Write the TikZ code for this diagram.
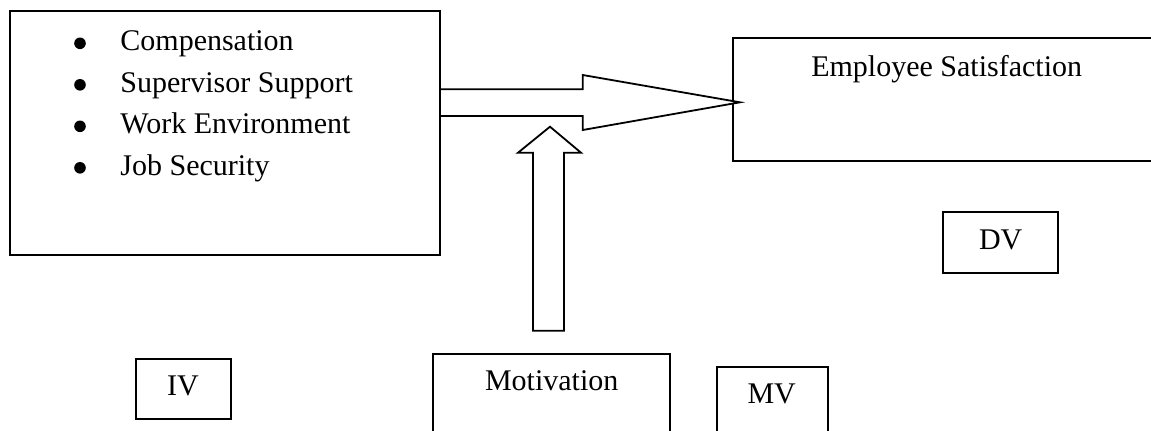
\documentclass[tikz,border=0pt]{standalone}
\usepackage{fontspec}
\setmainfont{Liberation Serif}
\begin{document}
\begin{tikzpicture}[x=0.5pt, y=-0.5pt, font=\fontsize{15}{18}\selectfont]
	\tikzset{box/.style={draw, line width=1pt, inner sep=0pt},
		txt/.style={inner sep=0pt, anchor=base},
		blockarrow/.style={draw, line width=0.9pt, line join=miter, fill=white}}
	\useasboundingbox (0,0) rectangle (1151,430);
	\clip (0,0) rectangle (1151,430);
	
	% Boxes
	\node[box, minimum width=215pt, minimum height=122pt] (factors) at (225,133) {};
	\node[box, minimum width=218.65pt, minimum height=61.35pt] (satisfaction) at (951.35,99.65) {};
	\node[box, minimum width=118.65pt, minimum height=45.35pt] (motivation) at (551.35,399.65) {};
	\node[box, minimum width=57.5pt, minimum height=30.5pt] (dv) at (1000.8,242.2) {};
	\node[box, minimum width=55.65pt, minimum height=39.25pt] (mv) at (772.35,405.75) {};
	\node[box, minimum width=47.65pt, minimum height=29.85pt] (iv) at (183.35,389.15) {};
	
	% Bullet list
	\foreach \item [count=\i] in {Compensation, Supervisor Support, Work Environment, Job Security} {
		\fill (80,1.8+41.5*\i) circle (2.9pt);
		\node[txt, anchor=base west] (item\i) at (120,9.2+41.5*\i) {\item};
	}
	
	% Labels
	\node[txt] (satlabel) at (946.7,76.7) {Employee Satisfaction};
	\node[txt] (motlabel) at (551.7,390) {Motivation};
	\node[txt] (dvlabel) at (1000.7,249.3) {DV};
	\node[txt] (mvlabel) at (771.7,403.3) {MV};
	\node[txt] (ivlabel) at (183,395) {IV};
	
	% Block arrows
	\coordinate (htip) at (740,102.3);
	\coordinate (vtip) at (550,126.7);
	\draw[blockarrow] (factors.east |- 0,89.3) -- (582.7,89.3) -- (582.7,75) -- (htip)
		-- (582.7,130) -- (582.7,116) -- (factors.east |- 0,116);
	\draw[blockarrow] (vtip) -- (581,152.7) -- (564,152.7) -- (564,330.7)
		-- (533,330.7) -- (533,152.7) -- (518,152.7) -- cycle;
\end{tikzpicture}
\end{document}
